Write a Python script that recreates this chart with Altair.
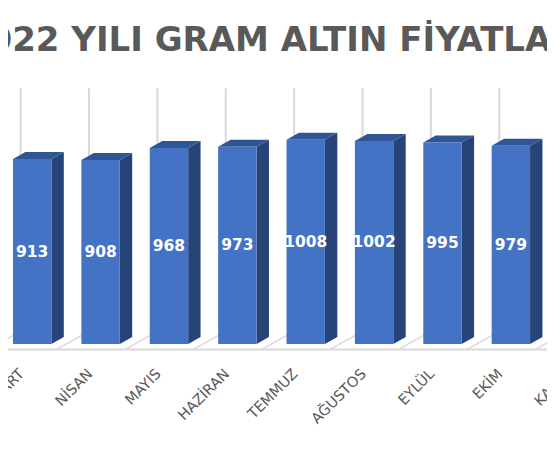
import altair as alt
import pandas as pd

# ---- data ----
title_text = "2022 YILI GRAM ALTIN FİYATLARI"
months = ["MART", "NİSAN", "MAYIS", "HAZİRAN", "TEMMUZ", "AĞUSTOS", "EYLÜL", "EKİM", "KASIM"]
prices = [913, 908, 968, 973, 1008, 1002, 995, 979, None]

# ---- geometry / style constants (pixels) ----
W, H = 539, 436
CAT_PX = 68.38          # px per category
X0_PX = 24.2            # px of first category centre
Y0_PX = 336.0           # px of value 0 (front plane)
VAL_PX = 0.2026         # px per value unit
AXIS_MAX = 1200
FRONT_W_PX = 38.4
BAR_DX_PX, BAR_DY_PX = 12.4, 7.0
FLOOR_DX_PX, FLOOR_DY_PX = -9.7, -5.4
WALL_DX_PX, WALL_DY_PX = 22.6, 12.6

FRONT = "#4472C4"
TOP = "#2F5597"
SIDE = "#264478"
GRID = "#D9D9D9"
TEXT = "#595959"


def cx(px):
    return px / CAT_PX


def cy(px):
    return px / VAL_PX


n = len(months)
x_scale = alt.Scale(domain=[0, n - 1], range=[X0_PX, X0_PX + (n - 1) * CAT_PX], nice=False, zero=False)
y_scale = alt.Scale(domain=[0, AXIS_MAX], range=[Y0_PX, Y0_PX - AXIS_MAX * VAL_PX], nice=False, zero=False)

df = pd.DataFrame({"i": list(range(n)), "month": months, "price": prices})
bars = df.dropna().copy()
hw = cx(FRONT_W_PX / 2)
ddx, ddy = cx(BAR_DX_PX), cy(BAR_DY_PX)

# front faces
bars["fx0"] = bars["i"] - hw
bars["fx1"] = bars["i"] + hw
bars["zero"] = 0.0
bars["half"] = bars["price"] / 2

# side and top faces (parallelograms drawn as two-point areas)
side_rows = []
top_rows = []
for _, r in bars.iterrows():
    side_rows.append({"month": r["month"], "sx": r["i"] + hw, "sy0": 0.0, "sy1": r["price"]})
    side_rows.append({"month": r["month"], "sx": r["i"] + hw + ddx, "sy0": ddy, "sy1": r["price"] + ddy})
    top_rows.append({"month": r["month"], "ty": r["price"], "tx0": r["i"] - hw, "tx1": r["i"] + hw})
    top_rows.append({"month": r["month"], "ty": r["price"] + ddy, "tx0": r["i"] - hw + ddx, "tx1": r["i"] + hw + ddx})
side_df = pd.DataFrame(side_rows)
top_df = pd.DataFrame(top_rows)

# back-wall gridlines and floor lines at category dividers
div = pd.DataFrame({"d": [k - 0.5 for k in range(n + 1)]})
div["gx"] = div["d"] + cx(WALL_DX_PX)
div["gy0"] = cy(WALL_DY_PX)
div["gy1"] = AXIS_MAX + cy(WALL_DY_PX)
div["fx"] = div["d"] + cx(FLOOR_DX_PX)
div["fy"] = cy(FLOOR_DY_PX)

floor_df = pd.DataFrame({"fy": [cy(FLOOR_DY_PX)]})
title_df = pd.DataFrame({"t": [title_text]})

gridlines = alt.Chart(div).mark_rule(color=GRID, strokeWidth=2).encode(
    x=alt.X("gx:Q", scale=x_scale, axis=None),
    y=alt.Y("gy0:Q", scale=y_scale, axis=None),
    y2="gy1:Q",
)

floor_diag = alt.Chart(div).mark_rule(color=GRID, strokeWidth=1.5).encode(
    x=alt.X("fx:Q", scale=x_scale, axis=None),
    x2="gx:Q",
    y=alt.Y("fy:Q", scale=y_scale, axis=None),
    y2="gy0:Q",
)

floor_front = alt.Chart(floor_df).mark_rule(color=GRID, strokeWidth=2).encode(
    y=alt.Y("fy:Q", scale=y_scale, axis=None),
)

side = alt.Chart(side_df).mark_area(color=SIDE, orient="vertical").encode(
    x=alt.X("sx:Q", scale=x_scale, axis=None),
    y=alt.Y("sy0:Q", scale=y_scale, axis=None),
    y2="sy1:Q",
    detail="month:N",
)

top = alt.Chart(top_df).mark_area(color=TOP, orient="horizontal").encode(
    y=alt.Y("ty:Q", scale=y_scale, axis=None),
    x=alt.X("tx0:Q", scale=x_scale, axis=None),
    x2="tx1:Q",
    detail="month:N",
)

front = alt.Chart(bars).mark_rect(color=FRONT).encode(
    x=alt.X("fx0:Q", scale=x_scale, axis=None),
    x2="fx1:Q",
    y=alt.Y("zero:Q", scale=y_scale, axis=None),
    y2="price:Q",
)

values = alt.Chart(bars).mark_text(
    color="white", font="DejaVu Sans", fontWeight="bold", fontSize=15.5, baseline="middle", align="center"
).encode(
    x=alt.X("i:Q", scale=x_scale, axis=None),
    y=alt.Y("half:Q", scale=y_scale, axis=None),
    text=alt.Text("price:Q", format="d"),
)

labels = alt.Chart(df).mark_text(
    color=TEXT, font="DejaVu Sans", fontSize=14.5, angle=315, align="right", baseline="middle", xOffset=-10
).encode(
    x=alt.X("i:Q", scale=x_scale, axis=None),
    y=alt.value(364),
    text="month:N",
)

title = alt.Chart(title_df).mark_text(
    color=TEXT, font="DejaVu Sans", fontWeight="bold", fontSize=34, align="center", baseline="alphabetic"
).encode(
    x=alt.value(W / 2),
    y=alt.value(43),
    text="t:N",
)

chart = alt.layer(
    gridlines, floor_diag, floor_front, side, top, front, values, labels, title
).properties(
    width=W, height=H, padding=0, autosize=alt.AutoSizeParams(type="none")
).configure_view(strokeWidth=0)

chart.save("out.html", embed_options={"renderer": "svg", "actions": False})
